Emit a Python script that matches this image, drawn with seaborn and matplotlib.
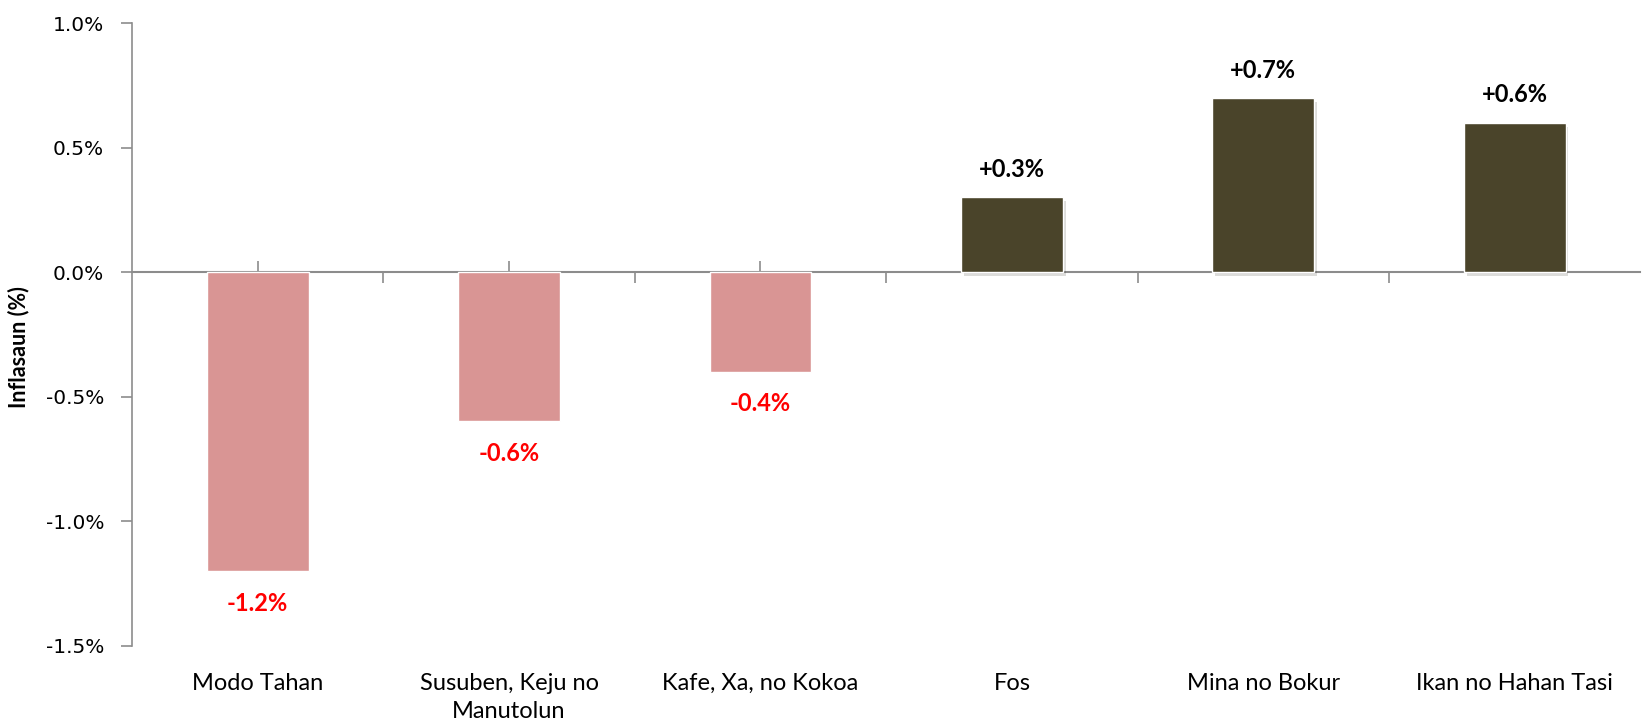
import matplotlib
matplotlib.use("Agg")
import matplotlib.pyplot as plt
import matplotlib.patheffects as pe
import seaborn as sns
import numpy as np

categories = ["Modo Tahan", "Susuben, Keju no\nManutolun", "Kafe, Xa, no Kokoa",
              "Fos", "Mina no Bokur", "Ikan no Hahan Tasi"]
values = [-1.2, -0.6, -0.4, 0.3, 0.7, 0.6]
yticks = [-1.5, -1.0, -0.5, 0.0, 0.5, 1.0]
ytick_labels = ["-1.5%", "-1.0%", "-0.5%", "0.0%", "0.5%", "1.0%"]
ylabel = "Inflasaun (%)"

NEG_COLOR = "#D99594"
POS_COLOR = "#4A442A"
GRAY = "#8C8C8C"

sns.set_theme(style="white")
plt.rcParams["font.family"] = ["Lato", "DejaVu Sans"]

fig = plt.figure(figsize=(16.42, 7.24), dpi=100)
ax = fig.add_axes([0.0804, 0.1084, 0.9186, 0.8598])

colors = [NEG_COLOR if v < 0 else POS_COLOR for v in values]
sns.barplot(x=categories, y=values, hue=categories, palette=colors,
            width=0.405, legend=False, ax=ax, saturation=1)

for p, v in zip(ax.patches, values):
    if v > 0:
        p.set_path_effects([pe.SimplePatchShadow(offset=(2, -3), alpha=0.15), pe.Normal()])

ax.set_xlim(-0.5, len(categories) - 0.5)
ax.set_ylim(-1.5, 1.0)
ax.set_yticks(yticks)
ax.set_yticklabels(ytick_labels, fontsize=14.5, color="black", family="DejaVu Sans")
ax.tick_params(axis="y", direction="out", length=8, width=1.2, color=GRAY, left=True, pad=12)
ax.tick_params(axis="x", length=0, pad=19.5, labelsize=17, labelcolor="black")
for t in ax.get_xticklabels():
    t.set_linespacing(1.45)
ax.set_ylabel(ylabel, fontsize=15.5, fontweight="bold", color="black")
ax.yaxis.set_label_coords(-0.068, 0.479)
ax.set_xlabel("")

for s in ["top", "right", "bottom"]:
    ax.spines[s].set_visible(False)
ax.spines["left"].set_color(GRAY)
ax.spines["left"].set_linewidth(1.2)

# zero line with tick marks (secondary axis placed at y = 0)
sec = ax.secondary_xaxis(1.5 / 2.5)
for name, sp in sec.spines.items():
    sp.set_color(GRAY)
    sp.set_linewidth(1.5)
sec.set_xticks(np.arange(0.5, len(categories) - 1, 1.0))
sec.set_xticks(np.arange(len(categories)), minor=True)
sec.tick_params(axis="x", which="major", direction="in", length=8, width=1.2, color=GRAY,
                labeltop=False, labelbottom=False)
sec.tick_params(axis="x", which="minor", direction="out", length=8, width=1.2, color=GRAY,
                labeltop=False, labelbottom=False)
sec.set_xticklabels([])
sec.set_xticklabels([], minor=True)

for i, v in enumerate(values):
    if v >= 0:
        ax.annotate(f"{v:+.1f}%", (i, v), xytext=(0, 14.5), textcoords="offset points",
                    ha="center", va="baseline", fontsize=17, fontweight="bold", color="black")
    else:
        ax.annotate(f"{v:+.1f}%", (i, v), xytext=(0, -15), textcoords="offset points",
                    ha="center", va="top", fontsize=17, fontweight="bold", color="#FF0000")

fig.savefig("out.png", dpi=100)
